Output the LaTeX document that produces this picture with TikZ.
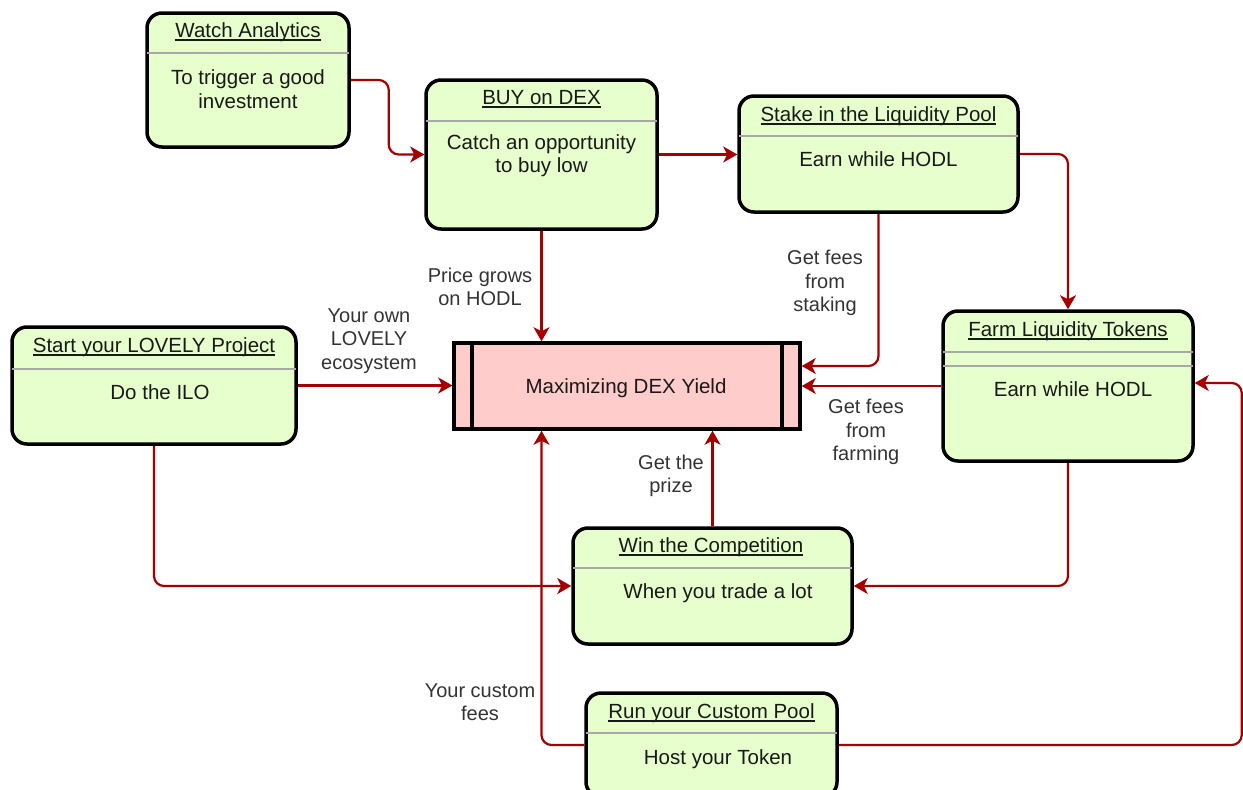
\documentclass[tikz,border=0pt]{standalone}
\usepackage{fontspec}
\setmainfont{Liberation Sans}
\usetikzlibrary{arrows.meta}
\definecolor{boxfill}{HTML}{E6FFCC}
\definecolor{maxfill}{HTML}{FFCCCC}
\definecolor{conncol}{HTML}{A50000}
\definecolor{sepcol}{HTML}{A8A8A8}
\definecolor{labcol}{HTML}{333333}
\tikzset{
  every node/.style={font=\fontsize{20.5}{23.5}\selectfont},
  card/.style={draw=black, line width=3.5pt, fill=boxfill, rounded corners=15pt, inner sep=0pt},
  maxbox/.style={draw=black, line width=3.5pt, fill=maxfill, inner sep=0pt, minimum width=346pt, minimum height=86pt},
  sepline/.style={draw=sepcol, line width=1.6pt, shorten <=1.7pt, shorten >=1.7pt},
  conn/.style={draw=conncol, line width=2.2pt, rounded corners=10pt, -{Stealth[length=14pt,width=16pt,inset=4pt]}},
  ttl/.style={anchor=base, text=black!90},
  bod/.style={align=center, text=black!90},
  lab/.style={align=center, text=labcol, font=\fontsize{20}{23.5}\selectfont},
}
\newsavebox\myulbox
\newcommand\ttlu[1]{\sbox\myulbox{#1}\rlap{\rule[-3pt]{\wd\myulbox}{1.1pt}}\usebox\myulbox}
\begin{document}
\begin{tikzpicture}[x=1pt,y=-1pt]
\useasboundingbox (0,0) rectangle (1243,790);
% boxes
\node[card, minimum width=202pt, minimum height=134pt] (wa) at (248,80) {};
\node[card, minimum width=231pt, minimum height=149pt] (buy) at (541.5,154.5) {};
\node[card, minimum width=279pt, minimum height=116pt] (stake) at (878.5,154) {};
\node[card, minimum width=250pt, minimum height=150pt] (farm) at (1068,386) {};
\node[card, minimum width=284pt, minimum height=117pt] (start) at (154,385.5) {};
\node[card, minimum width=279pt, minimum height=116pt] (win) at (712.5,586) {};
\node[card, minimum width=251pt, minimum height=104pt] (run) at (711.5,745) {};
\node[maxbox] (max) at (627,386) {};
% separators
\draw[sepline] (wa.west |- 0,53) -- (wa.east |- 0,53);
\draw[sepline] (buy.west |- 0,121) -- (buy.east |- 0,121);
\draw[sepline] (stake.west |- 0,136) -- (stake.east |- 0,136);
\draw[sepline] (farm.west |- 0,352) -- (farm.east |- 0,352);
\draw[sepline] (farm.west |- 0,366) -- (farm.east |- 0,366);
\draw[sepline] (start.west |- 0,369) -- (start.east |- 0,369);
\draw[sepline] (win.west |- 0,568) -- (win.east |- 0,568);
\draw[sepline] (run.west |- 0,733) -- (run.east |- 0,733);
% inner bars of max
\draw[line width=3.5pt] (472,343) -- (472,429);
\draw[line width=3.5pt] (782,343) -- (782,429);
% texts
\node[ttl] (wat) at (248,37.5) {\ttlu{Watch Analytics}};
\node[bod] (wab) at (248,89) {To trigger a good\\investment};
\node[ttl] (buyt) at (541.5,104.5) {\ttlu{BUY on DEX}};
\node[bod] (buyb) at (541.5,155.5) {Catch an opportunity\\to buy low};
\node[ttl] (staket) at (878.5,121.5) {\ttlu{Stake in the Liquidity Pool}};
\node[ttl] (stakeb) at (878.5,166.5) {Earn while HODL};
\node[ttl] (farmt) at (1068,336.5) {\ttlu{Farm Liquidity Tokens}};
\node[ttl] (farmb) at (1073,396.5) {Earn while HODL};
\node[ttl] (startt) at (154,352.5) {\ttlu{Start your LOVELY Project}};
\node[ttl] (startb) at (160,399.5) {Do the ILO};
\node[ttl] (wint) at (711,552.5) {\ttlu{Win the Competition}};
\node[ttl] (winb) at (718,598.5) {When you trade a lot};
\node[ttl] (runt) at (711.5,718.5) {\ttlu{Run your Custom Pool}};
\node[ttl] (runb) at (718,764.5) {Host your Token};
\node[ttl] (maxt) at (626,393.5) {Maximizing DEX Yield};
% connectors
\draw[conn] (wa.east) -- ++(38,0) |- (buy.west);
\draw[conn] (buy.east) -- (buy.east -| stake.west);
\draw[conn] (stake.east) -| (farm.north);
\draw[conn] (buy.south) -- (buy.south |- max.north);
\draw[conn] (stake.south) |- ([yshift=20pt]max.east);
\draw[conn] (farm.west) -- (max.east);
\draw[conn] (start.east) -- (start.east -| max.west);
\draw[conn] (start.south) |- (win.west);
\draw[conn] (farm.south) |- (win.east);
\draw[conn] (win.north) -- (win.north |- max.south);
\draw[conn] (run.west) -| (buy.south |- max.south);
\draw[conn] (run.east) -- ++(403,0) |- ([yshift=3pt]farm.east);
% labels
\node[lab] (l1) at (480,287) {Price grows\\on HODL};
\node[lab] (l2) at (369,341) {Your own\\LOVELY\\ecosystem};
\node[lab] (l3) at (825,283) {Get fees\\from\\staking};
\node[lab] (l4) at (866,432) {Get fees\\from\\farming};
\node[lab] (l5) at (671,476) {Get the\\prize};
\node[lab] (l6) at (480,702) {Your custom\\fees};
\end{tikzpicture}
\end{document}
